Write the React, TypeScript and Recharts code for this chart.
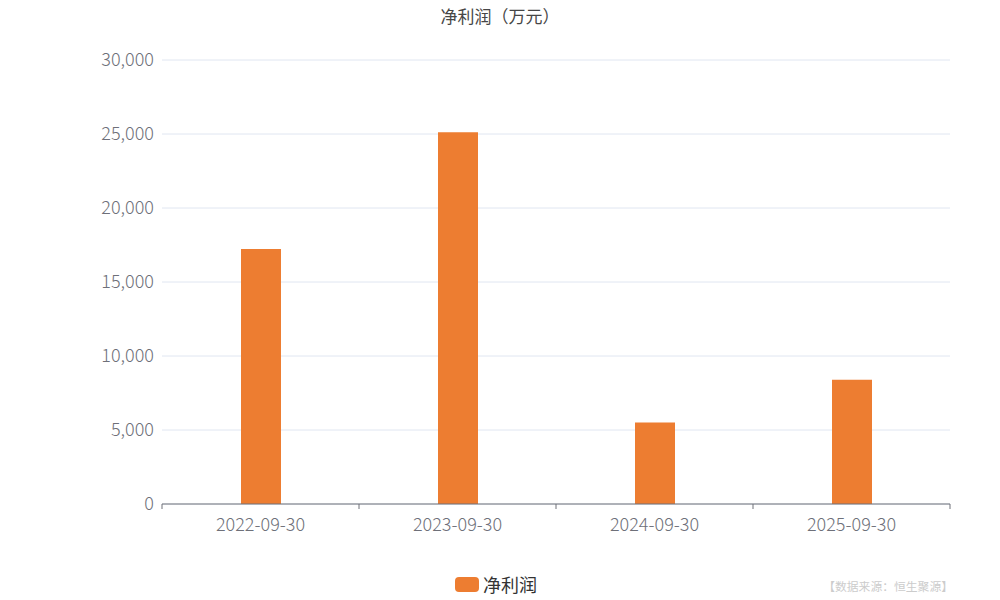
import React from "react";
import { BarChart, Bar, XAxis, YAxis, CartesianGrid } from "recharts";

const categories = ["2022-09-30", "2023-09-30", "2024-09-30", "2025-09-30"];
const netProfit = [17230, 25110, 5510, 8400];
const yTicks = [0, 5000, 10000, 15000, 20000, 25000, 30000];
const boundaryTicks = [0, 1, 2, 3, 4];

const data = categories.map((c, i) => ({ name: c, value: netProfit[i], pos: i + 0.5 }));

const FONT = '"Noto Sans CJK SC", "Noto Sans", sans-serif';
const fmt = (v: number) => v.toLocaleString("en-US");
const EmptyTick = () => <g />;

export default function App() {
  return (
    <div style={{ position: "absolute", left: 0, top: 0, width: 1000, height: 600, fontFamily: FONT, background: "#fff" }}>
      <div style={{ position: "absolute", top: 3, left: 0, width: 1000, textAlign: "center", fontSize: 17, color: "#464646" }}>
        净利润（万元）
      </div>
      <BarChart
        width={1000}
        height={600}
        data={data}
        margin={{ top: 60, right: 50, bottom: 66, left: 0 }}
        barSize={40}
      >
        <CartesianGrid horizontal vertical={false} stroke="#e0e6f1" />
        <XAxis
          xAxisId="bound"
          type="number"
          dataKey="pos"
          domain={[0, 4]}
          ticks={boundaryTicks}
          interval={0}
          axisLine={{ stroke: "#6e7079" }}
          tickLine={{ stroke: "#6e7079" }}
          tickSize={5}
          tick={EmptyTick}
          height={1}
        />
        <XAxis
          dataKey="name"
          xAxisId="cat"
          axisLine={false}
          tickLine={false}
          height={29}
          tickMargin={7}
          tick={{ fill: "#6e7079", fontSize: 18, fontWeight: 300, fontFamily: FONT }}
        />
        <YAxis
          width={162}
          domain={[0, 30000]}
          ticks={yTicks}
          axisLine={false}
          tickLine={false}
          tickFormatter={fmt}
          tick={{ fill: "#6e7079", fontSize: 18, fontWeight: 300, fontFamily: FONT }}
        />
        <Bar dataKey="value" xAxisId="cat" fill="#ED7D31" isAnimationActive={false} />
      </BarChart>
      <div style={{ position: "absolute", left: 455, top: 577, width: 24, height: 15, borderRadius: 4, background: "#ED7D31" }} />
      <div style={{ position: "absolute", left: 483, top: 571, fontSize: 18, color: "#333", lineHeight: "26px" }}>净利润</div>
      <div style={{ position: "absolute", right: 47, top: 578, fontSize: 11.8, color: "#cccccc", lineHeight: "16px" }}>
        【数据来源：恒生聚源】
      </div>
    </div>
  );
}
